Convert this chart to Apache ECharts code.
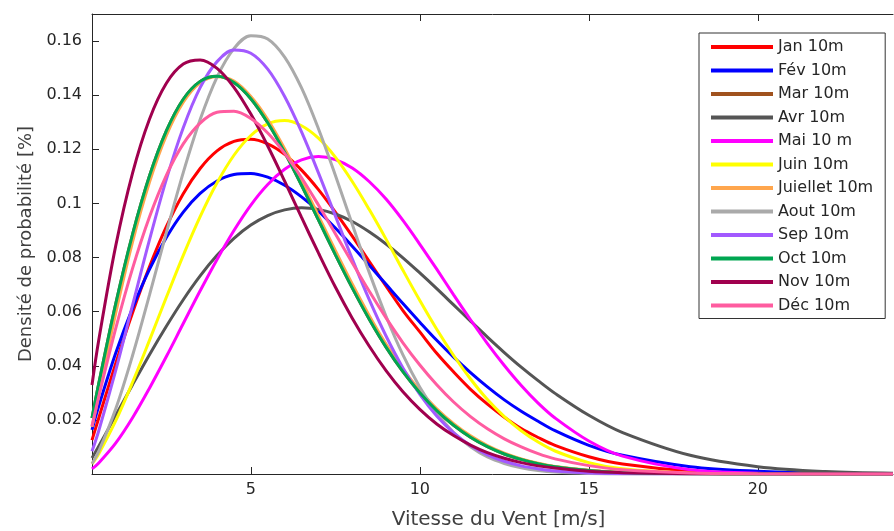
<!DOCTYPE html>
<html>
<head>
<meta charset="utf-8">
<script src="https://cdn.jsdelivr.net/npm/echarts@6/dist/echarts.min.js"></script>
<style>
  html, body { margin: 0; padding: 0; background: #ffffff; }
  #chart { width: 894px; height: 531px; }
</style>
</head>
<body>
<div id="chart"></div>
<script>
// Wind speed samples [m/s] shared by every monthly curve
const speeds = [0.3, 0.5, 1, 1.5, 2, 2.5, 3, 3.5, 4, 4.5, 5, 5.5, 6, 6.5, 7, 7.5, 8, 8.5, 9, 9.5,
                10, 10.5, 11, 11.5, 12, 12.5, 13, 13.5, 14, 15, 16, 18, 20, 22, 24];

// Probability density per month at 10 m height
const jan = [0.0125, 0.0207, 0.0408, 0.0596, 0.0766, 0.0914, 0.1036, 0.1129, 0.1194, 0.1229, 0.1237, 0.1220, 0.1181, 0.1123, 0.1051, 0.0968, 0.0879, 0.0786, 0.0694, 0.0604,
             0.0525, 0.0446, 0.0377, 0.0313, 0.0258, 0.0210, 0.0168, 0.0135, 0.0106, 0.0064, 0.0037, 0.0011, 0.0003, 0.0001, 0.0000];
const fev = [0.0163, 0.0251, 0.0446, 0.0613, 0.0756, 0.0874, 0.0968, 0.1037, 0.1083, 0.1107, 0.1111, 0.1097, 0.1067, 0.1024, 0.0971, 0.0909, 0.0842, 0.0772, 0.0701, 0.0630,
             0.0561, 0.0494, 0.0432, 0.0375, 0.0322, 0.0274, 0.0232, 0.0195, 0.0160, 0.0106, 0.0069, 0.0027, 0.0010, 0.0003, 0.0001];
const mar = [0.0207, 0.0334, 0.0628, 0.0886, 0.1101, 0.1268, 0.1385, 0.1451, 0.1470, 0.1447, 0.1387, 0.1298, 0.1189, 0.1067, 0.0939, 0.0811, 0.0688, 0.0573, 0.0469, 0.0378,
             0.0300, 0.0234, 0.0180, 0.0136, 0.0101, 0.0074, 0.0054, 0.0038, 0.0027, 0.0013, 0.0006, 0.0001, 0.0000, 0.0000, 0.0000];
const avr = [0.0059, 0.0103, 0.0216, 0.0330, 0.0441, 0.0546, 0.0644, 0.0732, 0.0808, 0.0871, 0.0920, 0.0955, 0.0976, 0.0984, 0.0978, 0.0961, 0.0933, 0.0895, 0.0850, 0.0799,
             0.0743, 0.0685, 0.0625, 0.0565, 0.0506, 0.0449, 0.0395, 0.0345, 0.0298, 0.0217, 0.0153, 0.0069, 0.0027, 0.0009, 0.0003];
const mai = [0.0019, 0.0041, 0.0114, 0.0208, 0.0317, 0.0434, 0.0556, 0.0677, 0.0793, 0.0900, 0.0994, 0.1070, 0.1126, 0.1161, 0.1173, 0.1162, 0.1131, 0.1081, 0.1016, 0.0937,
             0.0849, 0.0757, 0.0662, 0.0570, 0.0482, 0.0401, 0.0327, 0.0262, 0.0207, 0.0122, 0.0066, 0.0016, 0.0003, 0.0000, 0.0000];
const juin = [0.0037, 0.0075, 0.0196, 0.0339, 0.0494, 0.0653, 0.0808, 0.0951, 0.1076, 0.1178, 0.1251, 0.1294, 0.1306, 0.1287, 0.1241, 0.1171, 0.1081, 0.0978, 0.0868, 0.0753,
              0.0641, 0.0535, 0.0438, 0.0351, 0.0275, 0.0212, 0.0160, 0.0118, 0.0085, 0.0042, 0.0019, 0.0003, 0.0000, 0.0000, 0.0000];
const juil = [0.0174, 0.0292, 0.0593, 0.0858, 0.1078, 0.1251, 0.1374, 0.1446, 0.1468, 0.1452, 0.1395, 0.1310, 0.1202, 0.1082, 0.0954, 0.0826, 0.0702, 0.0586, 0.0480, 0.0388,
              0.0309, 0.0241, 0.0186, 0.0141, 0.0105, 0.0077, 0.0056, 0.0040, 0.0028, 0.0014, 0.0006, 0.0001, 0.0000, 0.0000, 0.0000];
const aout = [0.0038, 0.0084, 0.0240, 0.0438, 0.0661, 0.0892, 0.1114, 0.1310, 0.1467, 0.1572, 0.1620, 0.1608, 0.1541, 0.1427, 0.1276, 0.1104, 0.0923, 0.0746, 0.0583, 0.0440,
              0.0321, 0.0226, 0.0153, 0.0101, 0.0063, 0.0039, 0.0023, 0.0013, 0.0007, 0.0002, 0.0000, 0.0000, 0.0000, 0.0000, 0.0000];
const sep = [0.0084, 0.0160, 0.0382, 0.0624, 0.0865, 0.1089, 0.1280, 0.1428, 0.1524, 0.1567, 0.1555, 0.1496, 0.1395, 0.1264, 0.1113, 0.0954, 0.0795, 0.0645, 0.0510, 0.0392,
             0.0294, 0.0214, 0.0152, 0.0105, 0.0071, 0.0047, 0.0030, 0.0019, 0.0011, 0.0004, 0.0001, 0.0000, 0.0000, 0.0000, 0.0000];
const oct = [0.0207, 0.0334, 0.0628, 0.0886, 0.1101, 0.1268, 0.1385, 0.1451, 0.1470, 0.1447, 0.1387, 0.1298, 0.1189, 0.1067, 0.0939, 0.0811, 0.0688, 0.0573, 0.0469, 0.0378,
             0.0300, 0.0234, 0.0180, 0.0136, 0.0101, 0.0074, 0.0054, 0.0038, 0.0027, 0.0013, 0.0006, 0.0001, 0.0000, 0.0000, 0.0000];
const nov = [0.0329, 0.0495, 0.0842, 0.1112, 0.1311, 0.1444, 0.1515, 0.1530, 0.1499, 0.1429, 0.1330, 0.1212, 0.1082, 0.0948, 0.0817, 0.0691, 0.0576, 0.0473, 0.0382, 0.0304,
             0.0239, 0.0185, 0.0142, 0.0107, 0.0079, 0.0058, 0.0042, 0.0030, 0.0022, 0.0010, 0.0005, 0.0001, 0.0000, 0.0000, 0.0000];
const dec = [0.0177, 0.0286, 0.0537, 0.0760, 0.0950, 0.1104, 0.1220, 0.1297, 0.1337, 0.1341, 0.1314, 0.1260, 0.1185, 0.1095, 0.0994, 0.0888, 0.0781, 0.0676, 0.0577, 0.0485,
             0.0403, 0.0330, 0.0266, 0.0212, 0.0167, 0.0130, 0.0100, 0.0075, 0.0056, 0.0031, 0.0016, 0.0004, 0.0001, 0.0000, 0.0000];

// Legend names and line colours
const names = ['Jan 10m', 'Fév 10m', 'Mar 10m', 'Avr 10m', 'Mai 10 m', 'Juin 10m',
               'Juiellet 10m', 'Aout 10m', 'Sep 10m', 'Oct 10m', 'Nov 10m', 'Déc 10m'];
const colors = ['#ff0000', '#0000ff', '#a0521e', '#555555', '#ff00ff', '#ffff00',
                '#ffa64d', '#aaaaaa', '#a259ff', '#00a651', '#a0004e', '#ff5ca0'];
const months = [jan, fev, mar, avr, mai, juin, juil, aout, sep, oct, nov, dec];

// Axis tick positions
const xTicks = [5, 10, 15, 20];
const yTicks = [0.02, 0.04, 0.06, 0.08, 0.1, 0.12, 0.14, 0.16];

const FONT = 'DejaVu Sans';
const INK = '#262626';

const series = months.map((vals, m) => ({
  name: names[m],
  type: 'line',
  xAxisIndex: 0,
  yAxisIndex: 0,
  smooth: 0.35,
  symbol: 'none',
  animation: false,
  lineStyle: { color: colors[m], width: 3 },
  itemStyle: { color: colors[m] },
  data: speeds.map((s, i) => [s, vals[i]])
}));

const chart = echarts.init(document.getElementById('chart'), null, { renderer: 'canvas' });
chart.setOption({
  animation: false,
  backgroundColor: '#ffffff',
  grid: { left: 92, right: 1, top: 14, bottom: 57, containLabel: false, outerBoundsMode: 'none' },
  legend: {
    orient: 'vertical',
    left: 699,
    top: 33,
    padding: [6, 12, 5, 12],
    itemGap: 7.5,
    itemWidth: 62,
    itemHeight: 4,
    icon: 'rect',
    backgroundColor: '#ffffff',
    borderColor: '#333333',
    borderWidth: 1,
    borderRadius: 0,
    textStyle: { fontFamily: FONT, fontSize: 16, color: INK, lineHeight: 16 },
    data: names
  },
  xAxis: [
    {
      type: 'value',
      position: 'bottom',
      min: 0.3,
      max: 24,
      name: 'Vitesse du Vent [m/s]',
      nameLocation: 'middle',
      nameGap: 36,
      nameTextStyle: { fontFamily: FONT, fontSize: 20, color: '#404040', padding: [0, 0, 0, 12] },
      axisLine: { show: true, onZero: false, lineStyle: { color: INK, width: 1 } },
      axisTick: { show: true, inside: true, length: 7, customValues: xTicks, lineStyle: { color: INK } },
      axisLabel: { show: true, margin: 8, customValues: xTicks, fontFamily: FONT, fontSize: 16, color: INK },
      splitLine: { show: false }
    },
    {
      type: 'value',
      position: 'top',
      min: 0.3,
      max: 24,
      axisLine: { show: true, onZero: false, lineStyle: { color: INK, width: 1 } },
      axisTick: { show: true, inside: true, length: 7, customValues: xTicks, lineStyle: { color: INK } },
      axisLabel: { show: false },
      splitLine: { show: false }
    }
  ],
  yAxis: {
    type: 'value',
    min: 0,
    max: 0.17,
    name: 'Densité de probabilité [%]',
    nameLocation: 'middle',
    nameGap: 54,
    nameTextStyle: { fontFamily: FONT, fontSize: 18, color: '#404040' },
    axisLine: { show: true, onZero: false, lineStyle: { color: INK, width: 1 } },
    axisTick: { show: true, inside: true, length: 7, customValues: yTicks, lineStyle: { color: INK } },
    axisLabel: { show: true, margin: 10, customValues: yTicks, fontFamily: FONT, fontSize: 16, color: INK },
    splitLine: { show: false }
  },
  series: series
});
</script>
</body>
</html>
